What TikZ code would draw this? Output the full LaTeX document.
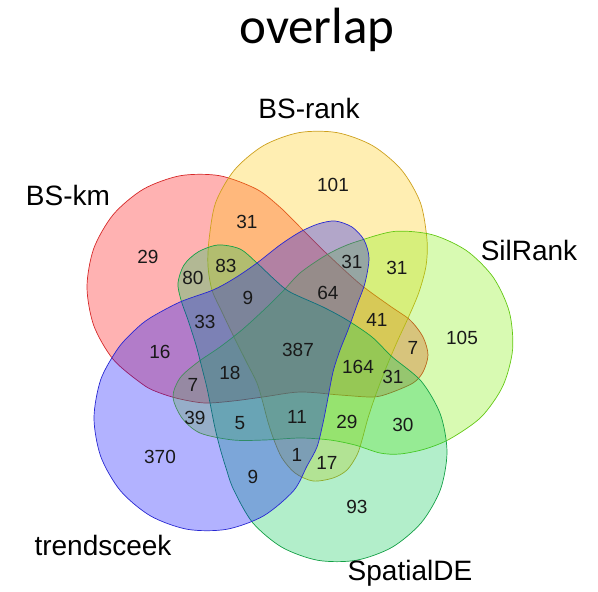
\documentclass[tikz,border=0pt]{standalone}
\usepackage{fontspec}
\setmainfont{Liberation Sans}
\newfontfamily\titlefont{Carlito}
\definecolor{fR}{RGB}{255,0,0}
\definecolor{lR}{RGB}{214,40,40}
\definecolor{fY}{RGB}{255,200,0}
\definecolor{lY}{RGB}{205,160,30}
\definecolor{fL}{RGB}{125,240,0}
\definecolor{lL}{RGB}{100,200,20}
\definecolor{fG}{RGB}{0,200,80}
\definecolor{lG}{RGB}{20,160,70}
\definecolor{fB}{RGB}{0,0,255}
\definecolor{lB}{RGB}{40,40,210}
\tikzset{
  setshape/.style={fill opacity=0.3, draw opacity=1, line width=0.7pt},
  cnt/.style={font=\fontsize{19}{19}\selectfont, text=black!90, inner sep=0pt},
  setlabel/.style={font=\fontsize{28}{28}\selectfont, anchor=base, inner sep=0pt},
}
\begin{document}
\begin{tikzpicture}[x=1pt,y=-1pt]
\useasboundingbox (0,0) rectangle (598,592);
% BS-km (red)
\path[setshape, fill=fR, draw=lR] plot[smooth cycle, tension=0.5] coordinates {
  (160,393) (143.5,384.9) (113.4,359.6) (93.8,325.6) (87,287) (93.8,248.4) (113.4,214.4) (143.5,189.1) (180.4,175.7) (219.6,175.7) (256.5,189.1) (279.9,207.1)
  (300,227) (325,252) (360,284) (390,306) (410,320) (423,337) (428,355) (423,372) (413,383) (390,393) (373,397) (340,395) (300,392) (263,397) (233,401) (205,403) (180,399)};
% BS-rank (yellow)
\path[setshape, fill=fY, draw=lY] plot[smooth cycle, tension=0.5] coordinates {
  (209,240) (215.6,202.7) (234.5,169.9) (263.5,145.6) (299.1,132.6) (336.9,132.6) (372.5,145.6) (401.5,169.9) (420.4,202.7) (427,240) (426,266)
  (419,292) (409,316) (397,342) (386,368) (376,394) (368,418) (362,440) (357,455) (347,470) (333,478) (313,481) (295,473) (282,458) (274,440) (268,422) (263,403) (257,383) (247,363) (233,335) (222,312) (212,290) (208,266)};
% SilRank (lime)
\path[setshape, fill=fL, draw=lL] plot[smooth cycle, tension=0.5] coordinates {
  (357.9,241.2) (394.5,231.4) (432.2,234.7) (466.6,250.7) (493.3,277.4) (509.3,311.8) (512.6,349.5) (502.8,386.1) (481.1,417.1) (450.1,438.8)
  (425,449) (400,454) (380,453) (355,445) (330,440) (300,438) (265,440) (233,440) (200,433) (182,418) (173,397) (180,378) (198,362) (220,347) (243,329) (267,307) (284,290) (300,273) (323,257) (340,248)};
% SpatialDE (green)
\path[setshape, fill=fG, draw=lG] plot[smooth cycle, tension=0.5] coordinates {
  (392,356.7) (421.3,381.3) (440.4,414.4) (447,452) (440.4,489.6) (421.3,522.7) (392,547.3) (356.1,560.3) (317.9,560.3) (282,547.3) (252.7,522.7) (233.6,489.6)
  (226,468) (220,448) (215,428) (211,408) (207,388) (202,368) (196,345) (188,320) (181,300) (178,283) (184,265) (198,252) (218,245) (240,249) (257,263) (275,280) (290,292) (323,307) (347,320) (372,337)};
% trendsceek (blue)
\path[setshape, fill=fB, draw=lB] plot[smooth cycle, tension=0.5] coordinates {
  (293.6,490.7) (263.5,515.9) (226.6,529.3) (187.4,529.3) (150.5,515.9) (120.4,490.7) (100.8,456.6) (94,418) (100.8,379.4) (118,348.4)
  (135,330) (150,318) (180,302) (213,290) (235,278) (257,263) (280,245) (300,232) (318,224) (335,221) (352,227) (364,240) (369,258) (365,283) (357,305) (348,330) (340,350) (333,372) (327,403) (323,423) (317,447) (307,466)};
% title
\node[font=\titlefont\fontsize{51}{51}\selectfont, anchor=base, inner sep=0pt] (title) at (317,43) {overlap};
% set labels
\node[setlabel] (lbkm) at (68,205) {BS-km};
\node[setlabel] (lbrank) at (309,118) {BS-rank};
\node[setlabel] (lsil) at (529,260) {SilRank};
\node[setlabel] (ltrend) at (103,555) {trendsceek};
\node[setlabel] (lspat) at (410,580) {SpatialDE};
% counts
\node[cnt] (n29) at (148,257) {29};
\node[cnt] (n31a) at (247,222) {31};
\node[cnt] (n101) at (333,185) {101};
\node[cnt] (n80) at (193,278) {80};
\node[cnt] (n83) at (226,266) {83};
\node[cnt] (n9a) at (248,298) {9};
\node[cnt] (n33) at (205,322) {33};
\node[cnt] (n31b) at (352,262) {31};
\node[cnt] (n31c) at (397,268) {31};
\node[cnt] (n64) at (328,293) {64};
\node[cnt] (n41) at (377,320) {41};
\node[cnt] (n105) at (462,338) {105};
\node[cnt] (n16) at (160,352) {16};
\node[cnt] (n387) at (298,350) {387};
\node[cnt] (n7a) at (193,385) {7};
\node[cnt] (n18) at (230,373) {18};
\node[cnt] (n164) at (358,367) {164};
\node[cnt] (n7b) at (413,348) {7};
\node[cnt] (n31d) at (393,377) {31};
\node[cnt] (n39) at (195,418) {39};
\node[cnt] (n5) at (240,423) {5};
\node[cnt] (n11) at (297,417) {11};
\node[cnt] (n29b) at (347,422) {29};
\node[cnt] (n30) at (403,425) {30};
\node[cnt] (n370) at (160,457) {370};
\node[cnt] (n9b) at (253,477) {9};
\node[cnt] (n1) at (297,455) {1};
\node[cnt] (n17) at (327,463) {17};
\node[cnt] (n93) at (357,507) {93};
\end{tikzpicture}
\end{document}
